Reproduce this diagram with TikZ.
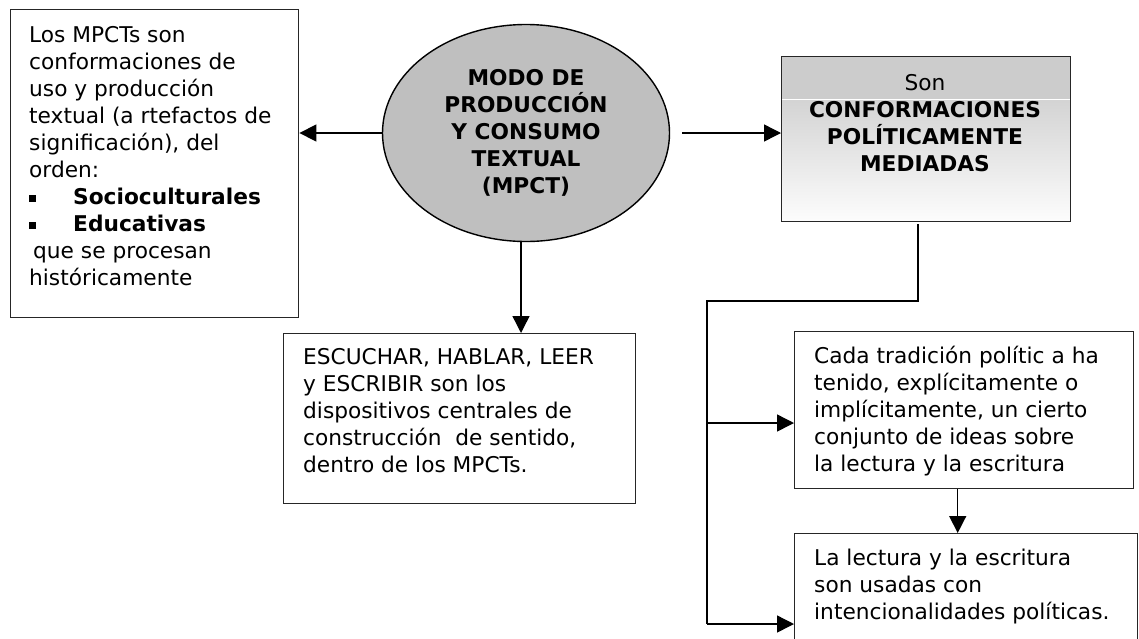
\documentclass[tikz,border=0pt]{standalone}
\usepackage{fontspec}
\setmainfont{DejaVu Sans}
\usetikzlibrary{shapes.geometric,arrows.meta}
\begin{document}
\begin{tikzpicture}[x=1pt,y=-1pt,
  box/.style={draw=black!85, line width=1.4pt, inner sep=0pt, anchor=north west},
  txt/.style={inner sep=0pt, anchor=north west, align=left, font=\fontsize{21.7}{27}\selectfont},
  arr/.style={line width=1.4pt, -{Triangle[length=17pt,width=17pt]}},
  con/.style={line width=1.4pt}]
\useasboundingbox (0,0) rectangle (1139,638);
\fill[white] (0,0) rectangle (1139,638);

% left box
\node[box, minimum width=288pt, minimum height=308pt] (lbox) at (10,9) {};
\node[txt] (ltxt) at (29,9) {\rule{0pt}{33pt}Los MPCTs son\\
conformaciones de\\
uso y producción\\
textual (a rtefactos de\\
significación), del\\
orden:\\
\makebox[44pt][l]{\rule[2pt]{7pt}{7pt}}\textbf{Socioculturales}\\
\makebox[44pt][l]{\rule[2pt]{7pt}{7pt}}\textbf{Educativas}\\
\hspace*{4pt}que se procesan\\
históricamente};

% ellipse
\node[draw=black, line width=1.4pt, ellipse, fill=black!25, minimum width=287pt,
  minimum height=217pt, inner sep=0pt, align=center,
  font=\bfseries\fontsize{21.7}{27}\selectfont] (ell) at (526,133)
  {MODO DE\\PRODUCCIÓN\\Y CONSUMO\\TEXTUAL\\(MPCT)};

% right shaded box
\node[box, minimum width=289pt, minimum height=165pt,
  path picture={
    \fill[black!20] (path picture bounding box.north west) rectangle ([yshift=-43pt]path picture bounding box.north east);
    \shade[top color=black!17, bottom color=black!1] ([yshift=-43pt]path picture bounding box.north west) rectangle (path picture bounding box.south east);
    \draw[white, line width=1pt] ([yshift=-43pt]path picture bounding box.north west) -- ([yshift=-43pt]path picture bounding box.north east);
  }] (rbox) at (781,56) {};
\node[txt, anchor=north, align=center] (rtxt) at (925,56) {\rule{0pt}{34pt}Son\\
\textbf{CONFORMACIONES}\\
\textbf{POLÍTICAMENTE}\\
\textbf{MEDIADAS}};

% middle bottom box
\node[box, minimum width=352pt, minimum height=170pt] (ebox) at (283,333) {};
\node[txt] (etxt) at (303,333) {\rule{0pt}{31pt}ESCUCHAR, HABLAR, LEER\\
y ESCRIBIR son los\\
dispositivos centrales de\\
construcción\ \ de sentido,\\
dentro de los MPCTs.};

% Cada box
\node[box, minimum width=339pt, minimum height=157pt] (cbox) at (794,331) {};
\node[txt] (ctxt) at (814,331) {\rule{0pt}{32pt}Cada tradición polític a ha\\
tenido, explícitamente o\\
implícitamente, un cierto\\
conjunto de ideas sobre\\
la lectura y la escritura};

% La lectura box
\node[box, minimum width=343pt, minimum height=150pt] (lb) at (794,533) {};
\node[txt] (lbtxt) at (814,533) {\rule{0pt}{32pt}La lectura y la escritura\\
son usadas con\\
intencionalidades políticas.};

% connectors
\draw[arr] (ell.west) -- (ell.west -| lbox.east);
\coordinate (rs) at ([xshift=12pt]ell.east);
\draw[arr] (rs) -- (rs -| rbox.west);
\coordinate (ds) at ([xshift=-5pt]ell.south);
\draw[arr] (ds) -- (ds |- ebox.north);
\coordinate (bs) at (918,224);
\coordinate (jc) at (707,301);
\coordinate (j2) at (707,423);
\coordinate (j3) at (707,624);
\draw[con] (bs) |- (jc) -- (j3);
\draw[arr] (j2) -- (j2 -| cbox.west);
\draw[arr] (j3) -- (j3 -| lb.west);
\coordinate (cs) at ([xshift=-6.5pt]cbox.south);
\draw[arr] (cs) -- (cs |- lb.north);
\end{tikzpicture}
\end{document}
